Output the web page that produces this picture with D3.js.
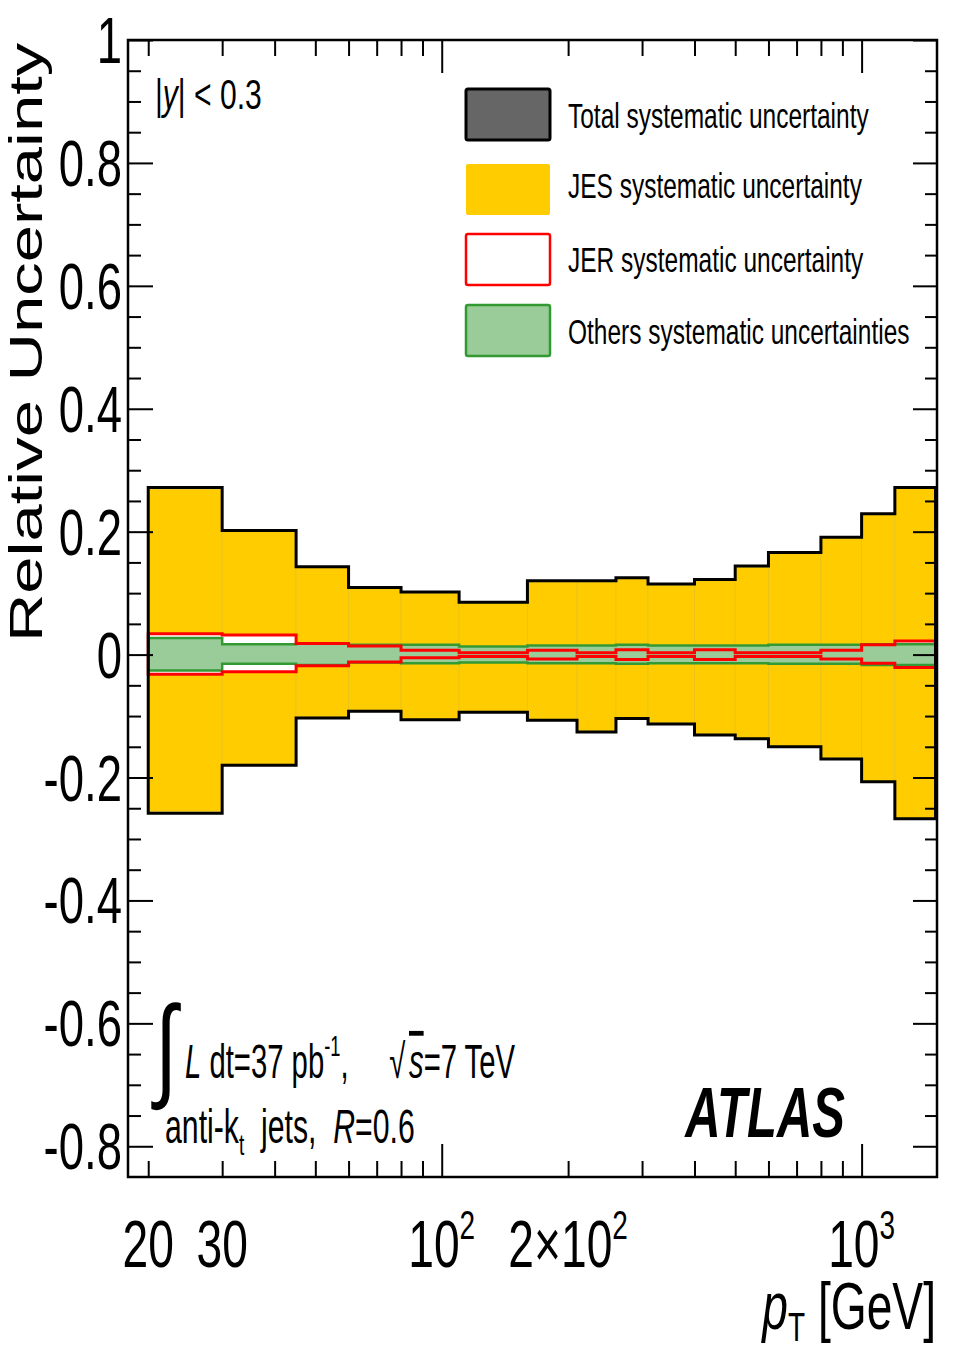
<!DOCTYPE html>
<html>
<head>
<meta charset="utf-8">
<script src="https://cdn.jsdelivr.net/npm/d3@7"></script>
<style>
  body { margin: 0; background: #fff; }
  svg text { font-family: "Liberation Sans", Arial, Helvetica, sans-serif; fill: #000; white-space: pre; }
</style>
</head>
<body>
<div id="chart"></div>
<script>
// bin edges in pT [GeV]
const edges = [20, 30, 45, 60, 80, 110, 160, 210, 260, 310, 400, 500, 600, 800, 1000, 1200, 1500];

// total systematic uncertainty (black outline)
const totalUp   = [0.272, 0.202, 0.143, 0.109, 0.102, 0.085, 0.120, 0.120, 0.125, 0.115, 0.122, 0.144, 0.166, 0.191, 0.229, 0.272];
const totalDown = [-0.258, -0.180, -0.103, -0.092, -0.106, -0.094, -0.107, -0.126, -0.104, -0.113, -0.131, -0.137, -0.150, -0.170, -0.207, -0.267];

// JES (yellow)
const jesUp   = [0.269, 0.200, 0.141, 0.107, 0.100, 0.083, 0.118, 0.118, 0.123, 0.113, 0.120, 0.142, 0.164, 0.189, 0.227, 0.270];
const jesDown = [-0.255, -0.178, -0.101, -0.090, -0.104, -0.092, -0.105, -0.124, -0.102, -0.111, -0.129, -0.135, -0.148, -0.168, -0.205, -0.265];

// JER (red outline)
const jerUp   = [0.034, 0.032, 0.018, 0.014, 0.007, 0.003, 0.007, 0.003, 0.008, 0.003, 0.008, 0.003, 0.003, 0.007, 0.016, 0.022];
const jerDown = [-0.032, -0.028, -0.018, -0.012, -0.005, -0.003, -0.007, -0.003, -0.008, -0.003, -0.008, -0.003, -0.003, -0.007, -0.014, -0.021];

// others (green)
const othUp   = [0.027, 0.017, 0.018, 0.016, 0.016, 0.013, 0.015, 0.015, 0.016, 0.015, 0.015, 0.015, 0.016, 0.016, 0.017, 0.017];
const othDown = [-0.026, -0.015, -0.017, -0.013, -0.014, -0.013, -0.014, -0.014, -0.015, -0.014, -0.014, -0.014, -0.015, -0.015, -0.017, -0.017];

// axis labels
const yMajor = [-0.8, -0.6, -0.4, -0.2, 0, 0.2, 0.4, 0.6, 0.8, 1];
const yLabels = ["-0.8", "-0.6", "-0.4", "-0.2", "0", "0.2", "0.4", "0.6", "0.8", "1"];
const xMajor = [100, 1000];
const xMinor = [20, 30, 40, 50, 60, 70, 80, 90, 200, 300, 400, 500, 600, 700, 800, 900];
const xLabels = [
  { v: 20, base: "20", exp: "" },
  { v: 30, base: "30", exp: "" },
  { v: 100, base: "10", exp: "2" },
  { v: 200, base: "2\u00d710", exp: "2" },
  { v: 1000, base: "10", exp: "3" }
];
const legendItems = [
  { label: "Total systematic uncertainty", fill: "#666666", stroke: "#000", sw: 3 },
  { label: "JES systematic uncertainty", fill: "#ffcc00", stroke: "none", sw: 0 },
  { label: "JER systematic uncertainty", fill: "#ffffff", stroke: "#ff0000", sw: 2.5 },
  { label: "Others systematic uncertainties", fill: "#99cc99", stroke: "#339933", sw: 2.5 }
];

const W = 954, H = 1350;
const mLeft = 128, mRight = 937, mTop = 40, mBottom = 1177;
const SX = 0.7; // horizontal squeeze of the text

const svg = d3.select("#chart").append("svg")
  .attr("width", W).attr("height", H);

const x = d3.scaleLog().domain([17.9, 1512]).range([mLeft, mRight]);
const y = d3.scaleLinear().domain([-0.85, 1]).range([mBottom, mTop]);

// step band outline as a closed path
function bandPath(up, down) {
  const pts = [];
  for (let i = 0; i < up.length; i++) {
    pts.push([x(edges[i]), y(up[i])]);
    pts.push([x(edges[i + 1]), y(up[i])]);
  }
  for (let i = down.length - 1; i >= 0; i--) {
    pts.push([x(edges[i + 1]), y(down[i])]);
    pts.push([x(edges[i]), y(down[i])]);
  }
  return d3.line()(pts) + "Z";
}

const plot = svg.append("g");

// JES bins
plot.selectAll("rect.jes")
  .data(jesUp)
  .join("rect")
  .attr("class", "jes")
  .attr("x", (d, i) => x(edges[i]))
  .attr("width", (d, i) => x(edges[i + 1]) - x(edges[i]))
  .attr("y", d => y(d))
  .attr("height", (d, i) => y(jesDown[i]) - y(d))
  .attr("fill", "#ffcc00")
  .attr("stroke", "#e9c21a")
  .attr("stroke-width", 0.8);

// JER fill, others, JER outline, total outline
plot.append("path").attr("d", bandPath(jerUp, jerDown)).attr("fill", "#fff");
plot.append("path").attr("d", bandPath(othUp, othDown))
  .attr("fill", "#99cc99").attr("stroke", "#339933").attr("stroke-width", 2.5);
plot.append("path").attr("d", bandPath(jerUp, jerDown))
  .attr("fill", "none").attr("stroke", "#ff0000").attr("stroke-width", 3);
plot.append("path").attr("d", bandPath(totalUp, totalDown))
  .attr("fill", "none").attr("stroke", "#000").attr("stroke-width", 3);

// axes ticks (inward, ROOT style)
const yMinor = d3.range(-17, 21).map(k => k * 0.05)
  .filter(v => v >= -0.85 && v <= 1 && Math.abs(Math.round(v * 5) - v * 5) > 1e-6);

function tickAxis(axisFn, scale, vals, size, tx, ty) {
  const g = svg.append("g")
    .attr("transform", `translate(${tx},${ty})`)
    .call(axisFn(scale).tickValues(vals).tickSize(size).tickSizeOuter(0).tickFormat(""));
  g.select(".domain").remove();
  g.selectAll("line").attr("stroke", "#000").attr("stroke-width", 2);
}
tickAxis(d3.axisLeft, y, yMinor, -13, mLeft, 0);
tickAxis(d3.axisLeft, y, yMajor, -25, mLeft, 0);
tickAxis(d3.axisRight, y, yMinor, -12, mRight, 0);
tickAxis(d3.axisRight, y, yMajor, -24, mRight, 0);
tickAxis(d3.axisBottom, x, xMinor, -16, 0, mBottom);
tickAxis(d3.axisBottom, x, xMajor, -33, 0, mBottom);
tickAxis(d3.axisTop, x, xMinor, -16, 0, mTop);
tickAxis(d3.axisTop, x, xMajor, -33, 0, mTop);

// frame
svg.append("rect")
  .attr("x", mLeft).attr("y", mTop)
  .attr("width", mRight - mLeft).attr("height", mBottom - mTop)
  .attr("fill", "none").attr("stroke", "#000").attr("stroke-width", 2.5);

// squeezed text helper
function label(px, py, anchor, size, extra, sx) {
  const g = svg.append("g")
    .attr("transform", `translate(${px},${py}) scale(${sx || SX},1)` + (extra || ""));
  return g.append("text")
    .attr("text-anchor", anchor)
    .attr("font-size", size);
}

// y tick labels
yMajor.forEach((v, i) => {
  label(122, y(v) + 23, "end", 65).text(yLabels[i]);
});

// x tick labels
xLabels.forEach(d => {
  const t = label(x(d.v), 1267, "middle", 66);
  t.append("tspan").text(d.base);
  if (d.exp) t.append("tspan").attr("font-size", 40).attr("dy", -28).text(d.exp);
});

// axis titles
const xt = label(936, 1329, "end", 66);
xt.append("tspan").attr("font-style", "italic").text("p");
xt.append("tspan").attr("font-size", 40).attr("dy", 12).text("T");
xt.append("tspan").attr("dy", -12).text(" [GeV]");

label(42, 642, "start", 67, " rotate(-90)").text("Relative Uncertainty");

// |y| < 0.3
const yt = label(155, 109, "start", 43);
yt.append("tspan").text("|");
yt.append("tspan").attr("font-style", "italic").text("y");
yt.append("tspan").text("| < 0.3");

// legend
const legY = [89, 164, 234, 305];
const legBase = [128, 198, 272, 344];
legendItems.forEach((d, i) => {
  svg.append("rect")
    .attr("x", 466).attr("y", legY[i])
    .attr("width", 84).attr("height", 51)
    .attr("rx", 2)
    .attr("fill", d.fill)
    .attr("stroke", d.stroke)
    .attr("stroke-width", d.sw);
  label(568, legBase[i], "start", 35).text(d.label);
});

// luminosity text
label(166, 1086, "middle", 114).attr("font-weight", 300).text("\u222b");
const lt = label(185, 1078, "start", 48, "", 0.61);
lt.append("tspan").attr("font-style", "italic").text("L");
lt.append("tspan").text(" dt=37 pb");
lt.append("tspan").attr("font-size", 30).attr("dy", -22).text("-1");
lt.append("tspan").attr("dy", 22).text(",     \u221a");
lt.append("tspan").attr("font-style", "italic").attr("dx", 6)
  .style("text-decoration", "overline").text("s");
lt.append("tspan").text("=7 TeV");

const at = label(165, 1143, "start", 48, "", 0.63);
at.append("tspan").text("anti-k");
at.append("tspan").attr("font-size", 30).attr("dy", 12).text("t");
at.append("tspan").attr("dy", -12).text("  jets,  ");
at.append("tspan").attr("font-style", "italic").text("R");
at.append("tspan").text("=0.6");

label(845, 1137, "end", 70).attr("font-weight", "bold").attr("font-style", "italic").text("ATLAS");
</script>
</body>
</html>
